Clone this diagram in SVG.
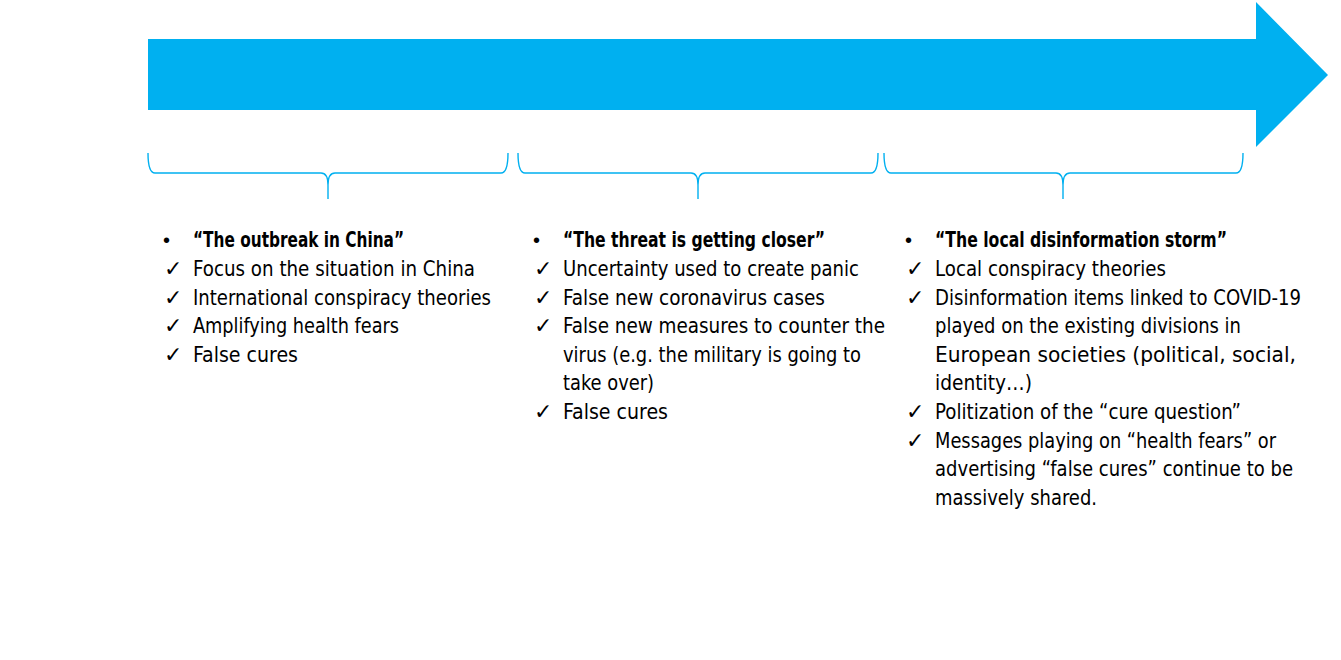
<svg xmlns="http://www.w3.org/2000/svg" width="1341" height="660" viewBox="0 0 1341 660">
<style>
.t{font-family:"Liberation Sans Narrow","DejaVu Sans Condensed","Liberation Sans",sans-serif;font-size:21px;fill:#000}
.b{font-weight:bold}
.ck{font-family:"DejaVu Sans",sans-serif;font-size:22px;fill:#000}
.dot{font-family:"Liberation Sans",sans-serif;font-size:20px;fill:#000}
.br{fill:none;stroke:#00B0F0;stroke-width:1.4}
</style>
<rect width="1341" height="660" fill="#fff"/>
<g id="timeline-arrow">
<polygon points="148,39 1256,39 1256,2 1328,75 1256,147 1256,110 148,110" fill="#00B0F0"/>
</g>
<g id="connectors">
<path class="br" d="M148,153 Q148,173 155,173 L321,173 Q328,173 328,185 L328,199 M328,185 Q328,173 335,173 L501,173 Q508,173 508,153"/>
<path class="br" d="M518,153 Q518,173 525,173 L691,173 Q698,173 698,185 L698,199 M698,185 Q698,173 705,173 L871,173 Q878,173 878,153"/>
<path class="br" d="M884,153 Q884,173 891,173 L1056,173 Q1063,173 1063,185 L1063,199 M1063,185 Q1063,173 1070,173 L1236,173 Q1243,173 1243,153"/>
</g>
<g id="phase1">
<text class="dot" x="163" y="247">•</text>
<text class="t b" x="193" y="247" textLength="211" lengthAdjust="spacingAndGlyphs">“The outbreak in China”</text>
<text class="ck" x="164" y="276">✓</text>
<text class="t" x="193" y="276" textLength="282" lengthAdjust="spacingAndGlyphs">Focus on the situation in China</text>
<text class="ck" x="164" y="305">✓</text>
<text class="t" x="193" y="305" textLength="298" lengthAdjust="spacingAndGlyphs">International conspiracy theories</text>
<text class="ck" x="164" y="333">✓</text>
<text class="t" x="193" y="333" textLength="206" lengthAdjust="spacingAndGlyphs">Amplifying health fears</text>
<text class="ck" x="164" y="362">✓</text>
<text class="t" x="193" y="362" textLength="105" lengthAdjust="spacingAndGlyphs">False cures</text>
</g>
<g id="phase2">
<text class="dot" x="533" y="247">•</text>
<text class="t b" x="563" y="247" textLength="262" lengthAdjust="spacingAndGlyphs">“The threat is getting closer”</text>
<text class="ck" x="534" y="276">✓</text>
<text class="t" x="563" y="276" textLength="296" lengthAdjust="spacingAndGlyphs">Uncertainty used to create panic</text>
<text class="ck" x="534" y="305">✓</text>
<text class="t" x="563" y="305" textLength="262" lengthAdjust="spacingAndGlyphs">False new coronavirus cases</text>
<text class="ck" x="534" y="333">✓</text>
<text class="t" x="563" y="333" textLength="322" lengthAdjust="spacingAndGlyphs">False new measures to counter the</text>
<text class="t" x="563" y="362" textLength="298" lengthAdjust="spacingAndGlyphs">virus (e.g. the military is going to</text>
<text class="t" x="563" y="390" textLength="91" lengthAdjust="spacingAndGlyphs">take over)</text>
<text class="ck" x="534" y="419">✓</text>
<text class="t" x="563" y="419" textLength="105" lengthAdjust="spacingAndGlyphs">False cures</text>
</g>
<g id="phase3">
<text class="dot" x="905" y="247">•</text>
<text class="t b" x="935" y="247" textLength="292" lengthAdjust="spacingAndGlyphs">“The local disinformation storm”</text>
<text class="ck" x="906" y="276">✓</text>
<text class="t" x="935" y="276" textLength="231" lengthAdjust="spacingAndGlyphs">Local conspiracy theories</text>
<text class="ck" x="906" y="305">✓</text>
<text class="t" x="935" y="305" textLength="366" lengthAdjust="spacingAndGlyphs">Disinformation items linked to COVID-19</text>
<text class="t" x="935" y="333" textLength="306" lengthAdjust="spacingAndGlyphs">played on the existing divisions in</text>
<text class="t" x="935" y="362" textLength="361" lengthAdjust="spacingAndGlyphs">European societies (political, social,</text>
<text class="t" x="935" y="390" textLength="97" lengthAdjust="spacingAndGlyphs">identity…)</text>
<text class="ck" x="906" y="419">✓</text>
<text class="t" x="935" y="419" textLength="306" lengthAdjust="spacingAndGlyphs">Politization of the “cure question”</text>
<text class="ck" x="906" y="448">✓</text>
<text class="t" x="935" y="448" textLength="341" lengthAdjust="spacingAndGlyphs">Messages playing on “health fears” or</text>
<text class="t" x="935" y="476" textLength="358" lengthAdjust="spacingAndGlyphs">advertising “false cures” continue to be</text>
<text class="t" x="935" y="505" textLength="162" lengthAdjust="spacingAndGlyphs">massively shared.</text>
</g>
</svg>
